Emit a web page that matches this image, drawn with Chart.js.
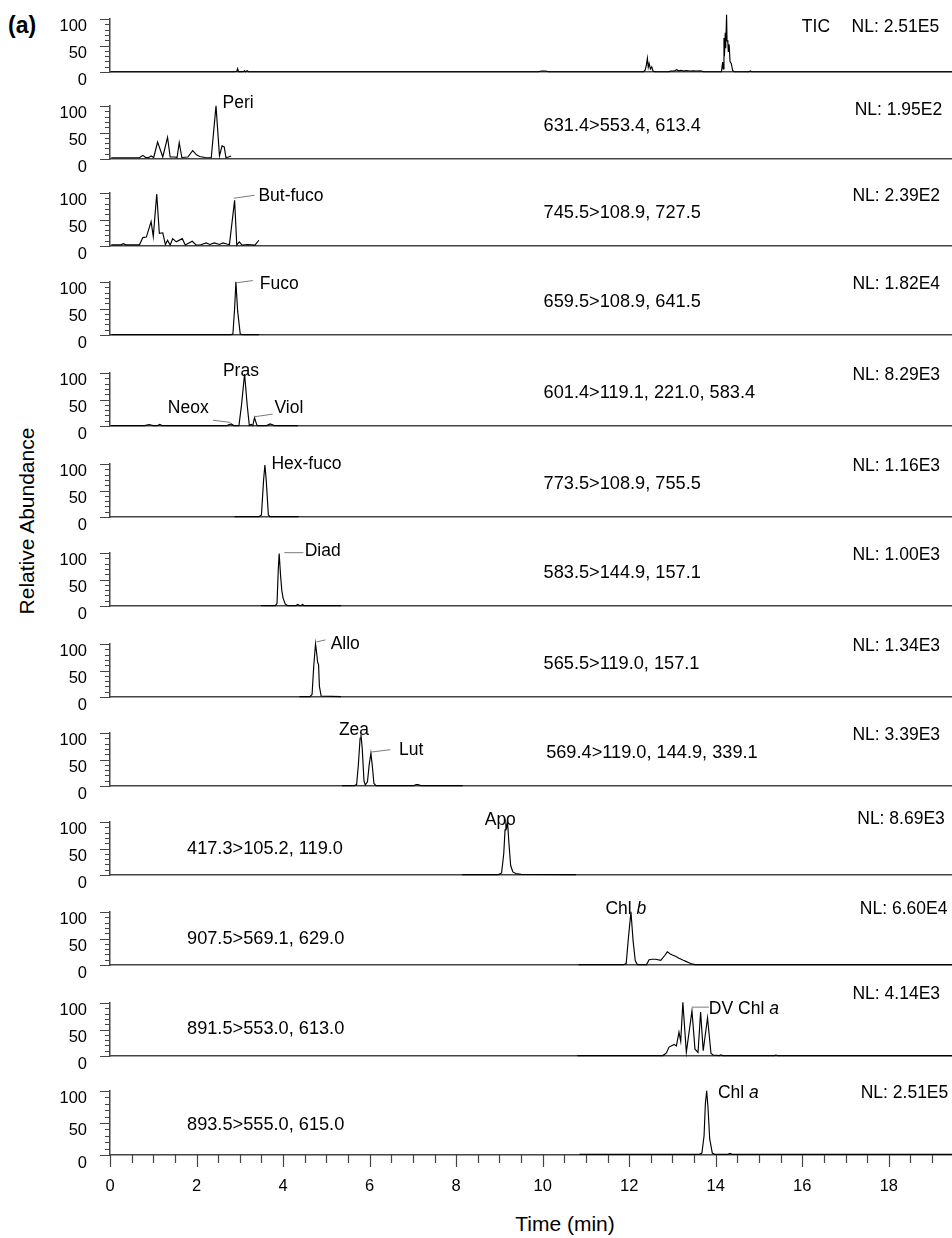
<!DOCTYPE html>
<html>
<head>
<meta charset="utf-8">
<script src="https://cdn.jsdelivr.net/npm/chart.js@4.4.1/dist/chart.umd.min.js"></script>
<style>
  html, body { margin: 0; padding: 0; background: #fff; }
  #fig { position: relative; width: 952px; height: 1238px; overflow: hidden; background: #fff;
         font-family: 'Liberation Sans', Arial, sans-serif; color: #000; }
  #fig canvas { position: absolute; left: 0; }
  #panelTag { position: absolute; left: 8px; top: 12px; font-weight: bold; font-size: 23px; line-height: 26px; }
  #yTitle { position: absolute; left: 27px; top: 521px; font-size: 21px; white-space: nowrap;
            transform: translate(-50%, -50%) rotate(-90deg); }
  #xTitle { position: absolute; left: 565px; top: 1224px; font-size: 21px; white-space: nowrap;
            transform: translate(-50%, -50%); }
</style>
</head>
<body>
<div id="fig">
  <div id="panelTag">(a)</div>
  <div id="yTitle">Relative Abundance</div>
  <div id="xTitle">Time (min)</div>
</div>
<script>
// ---- chromatogram traces: retention time (min) and relative abundance (%) ----
const ticTime  = [0.02, 2.88, 2.93, 2.95, 2.97, 3.08, 3.11, 3.13, 3.17, 3.20, 9.90, 9.97, 10.07, 10.14,
                  12.33, 12.37, 12.40, 12.42, 12.44, 12.46, 12.49, 12.52, 12.55, 12.60,
                  12.92, 12.95, 13.02, 13.06, 13.10, 13.14, 13.20, 13.26, 13.32, 13.40, 13.48, 13.56, 13.65, 13.72,
                  14.13, 14.16, 14.17, 14.19, 14.20, 14.22, 14.23, 14.25, 14.26, 14.28, 14.29, 14.31, 14.33, 14.36, 14.39, 14.43,
                  14.77, 14.80, 14.83, 19.46];
const ticAbund = [0.6, 0.6, 1.5, 6.5, 0.8, 0.8, 2.5, 0.8, 2.5, 0.6, 0.6, 2, 2, 0.6,
                  0.6, 4, 15, 26, 9, 16, 6, 10, 2, 0.6,
                  0.6, 2, 2, 3, 4.5, 2.5, 3.5, 2, 3, 2, 2.5, 2, 2.5, 0.6,
                  0.6, 19, 6, 64, 30, 74, 45, 108, 60, 56, 38, 52, 20, 16, 3, 0.6,
                  0.6, 2, 0.6, 0.6];

const periTime  = [0.03, 0.68, 0.76, 0.82, 0.90, 0.95, 1.01, 1.10, 1.22, 1.33, 1.39, 1.50, 1.55, 1.60, 1.66,
                   1.80, 1.91, 2.00, 2.07, 2.20, 2.34, 2.45, 2.53, 2.59, 2.64, 2.68, 2.74, 2.80];
const periAbund = [2.5, 2.5, 7, 3, 3, 6, 3, 32, 4, 41, 4, 4, 3, 31, 3,
                   4, 16, 8, 5, 3, 2.5, 100, 6, 25, 23, 3, 4, 6];

const butTime  = [0.03, 0.25, 0.31, 0.37, 0.68, 0.76, 0.84, 0.95, 1.00, 1.08, 1.14, 1.22, 1.28, 1.33, 1.39,
                  1.45, 1.53, 1.67, 1.74, 1.90, 1.99, 2.10, 2.22, 2.31, 2.41, 2.53, 2.61, 2.70, 2.76, 2.88,
                  2.93, 2.99, 3.05, 3.18, 3.35, 3.44];
const butAbund = [2.4, 2.4, 4.5, 2.4, 2.4, 16, 17, 46, 18, 98, 24, 25, 3, 11, 2,
                  14, 8, 14, 2, 9, 2, 2.5, 6, 3, 6, 3, 6, 4, 3, 86,
                  2, 8, 2, 3, 2, 11];

const fucoTime  = [0.03, 2.80, 2.84, 2.88, 2.91, 2.95, 3.01, 3.06, 3.44];
const fucoAbund = [1, 1, 2, 50, 100, 45, 2, 1, 1];

const prasTime  = [0.02, 0.80, 0.90, 1.00, 1.10, 1.15, 1.20, 2.70, 2.80, 2.86, 2.98, 3.04, 3.11, 3.17, 3.22,
                   3.26, 3.30, 3.34, 3.37, 3.40, 3.46, 3.62, 3.70, 3.74, 3.80, 4.34];
const prasAbund = [1, 1, 3, 1, 1, 3, 1, 1, 4, 1, 1, 40, 98, 40, 1,
                   3, 1, 16, 8, 1, 1, 1, 4, 3, 1, 1];

const hexTime  = [2.88, 3.45, 3.50, 3.55, 3.58, 3.61, 3.66, 3.70, 4.36];
const hexAbund = [1, 1, 4, 70, 98, 70, 4, 1, 1];

const diadTime  = [3.49, 3.82, 3.86, 3.89, 3.91, 3.94, 3.97, 4.00, 4.05, 4.10, 4.30, 4.34, 4.38, 4.42, 4.45, 4.48, 5.34];
const diadAbund = [1, 1, 5, 70, 99, 60, 30, 15, 4, 1, 1, 3, 1, 1, 3, 1, 1];

const alloTime  = [4.38, 4.62, 4.67, 4.71, 4.75, 4.78, 4.80, 4.82, 4.84, 4.88, 5.34];
const alloAbund = [1, 1, 5, 60, 100, 80, 65, 61, 20, 2, 1];

const zeaTime  = [5.36, 5.65, 5.70, 5.74, 5.78, 5.80, 5.83, 5.87, 5.90, 5.95, 5.99, 6.03, 6.06, 6.10, 6.15,
                  6.20, 7.02, 7.08, 7.12, 7.18, 8.15];
const zeaAbund = [1, 1, 3, 40, 90, 97, 70, 10, 2, 8, 40, 62, 40, 5, 1,
                  1, 1, 3, 3, 1, 1];

const apoTime  = [8.14, 8.98, 9.05, 9.10, 9.13, 9.15, 9.17, 9.19, 9.22, 9.26, 9.31, 9.38, 9.50, 10.77];
const apoAbund = [1, 1, 4, 40, 85, 98, 90, 97, 60, 18, 6, 3, 1.5, 1];

const chlbTime  = [10.83, 11.88, 11.93, 11.98, 12.04, 12.09, 12.14, 12.19, 12.40, 12.46, 12.53, 12.61, 12.73,
                   12.82, 12.88, 12.95, 13.00, 13.08, 13.15, 13.25, 13.31, 13.42, 13.52, 19.46];
const chlbAbund = [1, 1, 3, 50, 100, 45, 8, 1, 1, 10, 11, 11, 9,
                   18, 25, 21, 19, 16, 13, 9, 7, 3, 1, 1];

const dvTime  = [10.80, 12.78, 12.86, 12.92, 13.04, 13.09, 13.15, 13.19, 13.24, 13.32, 13.45, 13.52, 13.59,
                 13.65, 13.71, 13.81, 13.89, 13.94, 14.08, 14.12, 14.16, 15.36, 15.39, 15.42, 19.46];
const dvAbund = [1, 1, 6, 17, 22, 19, 45, 28, 101, 7, 85, 13, 7,
                 83, 10, 72, 5, 2, 1, 2.5, 1, 1, 2, 1, 1];

const chlaTime  = [10.85, 13.62, 13.68, 13.73, 13.76, 13.79, 13.82, 13.86, 13.92, 13.97, 14.28, 14.33, 14.38, 19.46];
const chlaAbund = [1, 1, 3, 30, 80, 100, 75, 25, 3, 1, 1, 2.5, 1, 1];

// ---- panel texts ----
const nlLabels = ['NL: 2.51E5', 'NL: 1.95E2', 'NL: 2.39E2', 'NL: 1.82E4', 'NL: 8.29E3', 'NL: 1.16E3', 'NL: 1.00E3',
                  'NL: 1.34E3', 'NL: 3.39E3', 'NL: 8.69E3', 'NL: 6.60E4', 'NL: 4.14E3', 'NL: 2.51E5'];
const transitions = ['TIC', '631.4>553.4, 613.4', '745.5>108.9, 727.5', '659.5>108.9, 641.5',
                     '601.4>119.1, 221.0, 583.4', '773.5>108.9, 755.5', '583.5>144.9, 157.1',
                     '565.5>119.0, 157.1', '569.4>119.0, 144.9, 339.1', '417.3>105.2, 119.0',
                     '907.5>569.1, 629.0', '891.5>553.0, 613.0', '893.5>555.0, 615.0'];
const xTickLabels = [0, 2, 4, 6, 8, 10, 12, 14, 16, 18];
const yTickLabels = [0, 50, 100];

// ---- layout ----
const X_MIN = 0, X_MAX = 19.46;
const PLOT_H = 67, PAD_T = 30, PAD_B = 22, AXIS_W = 110, FIG_H = 1238;
const baselines = [83, 170, 257, 346, 437, 528, 617, 708, 797, 886, 976, 1067, 1155];
const FONT = "'Liberation Sans', Arial, sans-serif";
const NOTE_SIZE = 17.5, TRANS_SIZE = 18.2, TICK_SIZE = 16.5;
const INK = '#000', AXIS_INK = '#444', LEADER_INK = '#7a7a7a';

// anchor points (time, %) for the per-panel texts
const nlAt = [[17.14, 85], [17.21, 92], [17.16, 94], [17.16, 95], [17.16, 96], [17.16, 96], [17.16, 96],
              [17.16, 96], [17.16, 96], [17.27, 105], [17.33, 105], [17.16, 116], [17.35, 97]];
const transAt = [[15.99, 85], [10.02, 63], [10.02, 62.5], [10.02, 62.5], [10.02, 62.5], [10.02, 62.5], [10.02, 62.5],
                 [10.02, 62.5], [10.08, 62], [1.78, 50], [1.78, 49], [1.78, 51], [1.78, 47.5]];

// compound names, with optional leader lines
const compoundNotes = [
  [],
  [{ parts: [['Peri']], at: [2.60, 106] }],
  [{ parts: [['But-fuco']], at: [3.43, 94.5], leader: [[2.86, 90], [3.34, 95.5]] }],
  [{ parts: [['Fuco']], at: [3.46, 95], leader: [[2.94, 98.5], [3.30, 102.5]] }],
  [{ parts: [['Pras']], at: [2.61, 104] },
   { parts: [['Viol']], at: [3.80, 33], leader: [[3.33, 17.5], [3.76, 22.5]] },
   { parts: [['Neox']], at: [2.28, 33], align: 'right', leader: [[2.38, 11], [2.78, 7]] }],
  [{ parts: [['Hex-fuco']], at: [3.73, 100] }],
  [{ parts: [['Diad']], at: [4.50, 103], leader: [[4.03, 100.4], [4.47, 100.4]] }],
  [{ parts: [['Allo']], at: [5.10, 100], leader: [[4.77, 103.6], [4.98, 107.5]] }],
  [{ parts: [['Zea']], at: [5.29, 105.5] },
   { parts: [['Lut']], at: [6.68, 67], leader: [[6.04, 64], [6.48, 68.5]] }],
  [{ parts: [['Apo']], at: [8.66, 103] }],
  [{ parts: [['Chl '], ['b', true]], at: [11.45, 105.5] }],
  [{ parts: [['DV Chl '], ['a', true]], at: [13.84, 88], leader: [[13.46, 92], [13.84, 92]] }],
  [{ parts: [['Chl '], ['a', true]], at: [14.05, 96.5] }]
];

const traces = [
  [ticTime, ticAbund], [periTime, periAbund], [butTime, butAbund], [fucoTime, fucoAbund],
  [prasTime, prasAbund], [hexTime, hexAbund], [diadTime, diadAbund], [alloTime, alloAbund],
  [zeaTime, zeaAbund], [apoTime, apoAbund], [chlbTime, chlbAbund], [dvTime, dvAbund], [chlaTime, chlaAbund]
];

// minor/major tick marks on both axes, placed through the chart scales
const tickMarks = {
  id: 'tickMarks',
  afterDraw(chart, args, opts) {
    const { ctx, chartArea: a, scales: { x, y } } = chart;
    ctx.save();
    ctx.strokeStyle = AXIS_INK;
    ctx.lineWidth = 1.2;
    ctx.beginPath();
    for (let v = 0; v <= 100; v += 10) {
      const py = Math.round(y.getPixelForValue(v)) + 0.5;
      const len = v % 50 === 0 ? 10 : 5;
      ctx.moveTo(a.left - len, py);
      ctx.lineTo(a.left, py);
    }
    if (opts.xTicks) {
      for (let k = 0; k * 0.5 <= X_MAX; k++) {
        const px = Math.round(x.getPixelForValue(k * 0.5)) + 0.5;
        const len = k % 4 === 0 ? 12 : 8;
        ctx.moveTo(px, a.bottom);
        ctx.lineTo(px, a.bottom + len);
      }
    }
    ctx.stroke();
    ctx.restore();
  }
};

// NL value, transition and compound labels
const panelNotes = {
  id: 'panelNotes',
  afterDatasetsDraw(chart, args, opts) {
    const { ctx, scales: { x, y } } = chart;
    const px = p => [x.getPixelForValue(p[0]), y.getPixelForValue(p[1])];
    const drawParts = (parts, at, align, size) => {
      ctx.textBaseline = 'middle';
      const fonts = parts.map(p => (p[1] ? 'italic ' : '') + size + 'px ' + FONT);
      const widths = parts.map((p, i) => { ctx.font = fonts[i]; return ctx.measureText(p[0]).width; });
      let [cx, cy] = px(at);
      if (align === 'right') cx -= widths.reduce((s, w) => s + w, 0);
      parts.forEach((p, i) => {
        ctx.font = fonts[i];
        ctx.fillStyle = INK;
        ctx.textAlign = 'left';
        ctx.fillText(p[0], cx, cy);
        cx += widths[i];
      });
    };
    ctx.save();
    for (const n of opts.notes) {
      if (n.leader) {
        const [p0, p1] = n.leader.map(px);
        ctx.strokeStyle = LEADER_INK;
        ctx.lineWidth = 1;
        ctx.beginPath();
        ctx.moveTo(p0[0], p0[1]);
        ctx.lineTo(p1[0], p1[1]);
        ctx.stroke();
      }
      drawParts(n.parts, n.at, n.align, n.size || NOTE_SIZE);
    }
    ctx.restore();
  }
};

const fig = document.getElementById('fig');

traces.forEach(([time, abund], i) => {
  const last = i === traces.length - 1;
  const top = baselines[i] - PLOT_H - PAD_T;
  const height = last ? FIG_H - top : PLOT_H + PAD_T + PAD_B;
  const cv = document.createElement('canvas');
  cv.width = 952;
  cv.height = height;
  cv.style.top = top + 'px';
  cv.style.width = '952px';
  cv.style.height = height + 'px';
  fig.appendChild(cv);

  const notes = [
    { parts: [[nlLabels[i]]], at: nlAt[i] },
    { parts: [[transitions[i]]], at: transAt[i], size: i === 0 ? NOTE_SIZE : TRANS_SIZE },
    ...compoundNotes[i]
  ];

  new Chart(cv, {
    type: 'line',
    data: {
      datasets: [{
        data: time.map((t, k) => ({ x: t, y: abund[k] })),
        borderColor: INK,
        borderWidth: 1.15,
        pointRadius: 0,
        tension: 0,
        fill: false,
        clip: false
      }]
    },
    options: {
      responsive: false,
      animation: false,
      events: [],
      devicePixelRatio: 1,
      layout: { padding: { top: PAD_T, bottom: last ? 0 : PAD_B, left: 0, right: 0 } },
      plugins: {
        legend: { display: false },
        tooltip: { enabled: false },
        tickMarks: { xTicks: last },
        panelNotes: { notes }
      },
      scales: {
        x: {
          type: 'linear',
          min: X_MIN,
          max: X_MAX,
          grid: { display: false, drawTicks: false },
          border: { display: true, color: AXIS_INK, width: 1.5 },
          ticks: {
            display: last,
            padding: 22,
            maxRotation: 0,
            color: INK,
            font: { family: FONT, size: TICK_SIZE }
          },
          afterBuildTicks: s => { s.ticks = xTickLabels.map(v => ({ value: v })); },
          afterFit: s => { s.height = last ? FIG_H - baselines[i] : 0; }
        },
        y: {
          min: 0,
          max: 100,
          grid: { display: false, drawTicks: false },
          border: { display: true, color: AXIS_INK, width: 1.5 },
          ticks: {
            padding: 23,
            labelOffset: 8,
            color: INK,
            font: { family: FONT, size: TICK_SIZE }
          },
          afterBuildTicks: s => { s.ticks = yTickLabels.map(v => ({ value: v })); },
          afterFit: s => { s.width = AXIS_W; }
        }
      }
    },
    plugins: [tickMarks, panelNotes]
  });
});
</script>
</body>
</html>
